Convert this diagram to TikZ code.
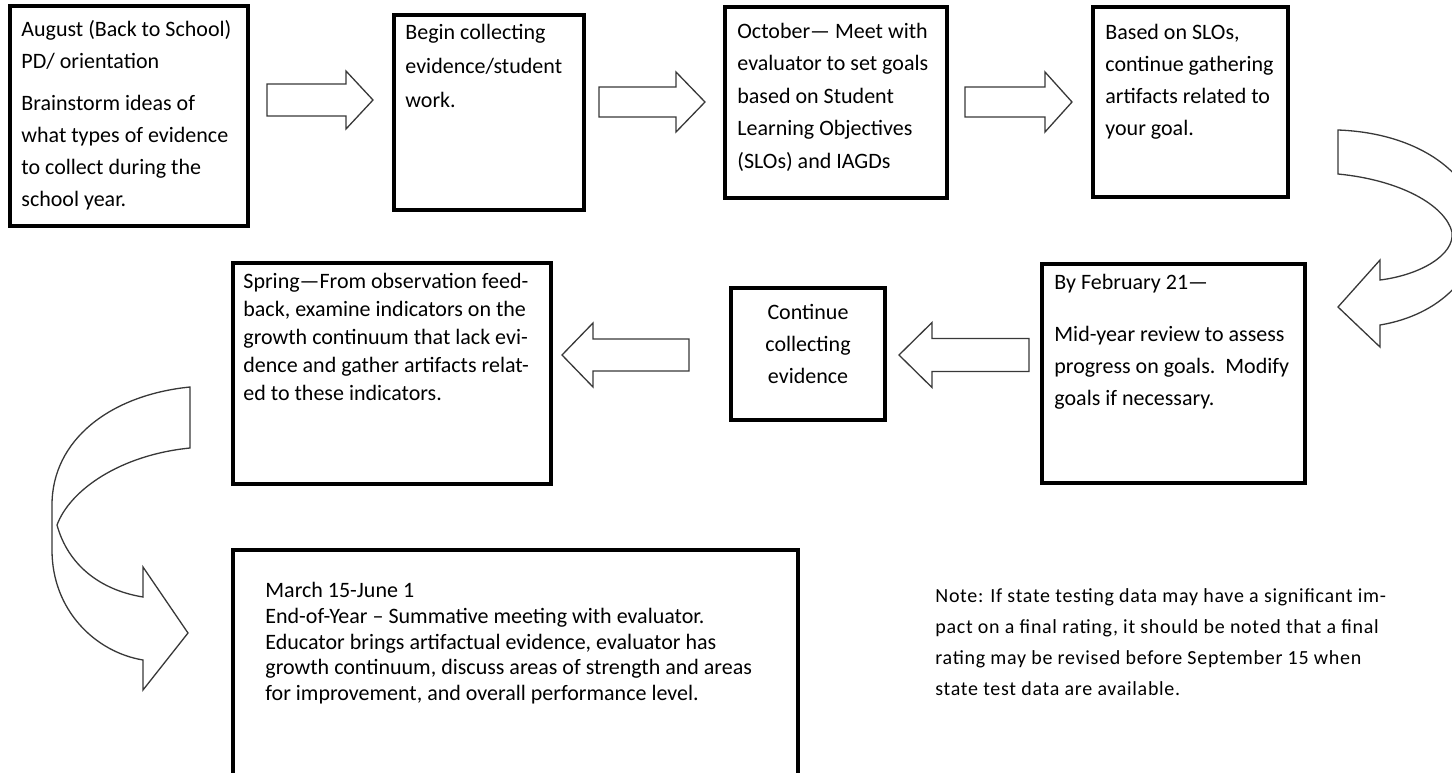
\documentclass[tikz,border=0pt]{standalone}
\usepackage{fontspec}
\setmainfont{Carlito}
\newfontfamily\notefont[LetterSpace=3.5]{Carlito}
\usetikzlibrary{fit}

% block arrow: tail x, head-base x, tip x, centre y, shaft half width, head half width
\newcommand\blockarrow[6]{%
  \path[blk] ({#1},{#4-#5}) -- ({#2},{#4-#5}) -- ({#2},{#4-#6}) -- ({#3},{#4})
    -- ({#2},{#4+#6}) -- ({#2},{#4+#5}) -- ({#1},{#4+#5}) -- cycle;}

\begin{document}
\begin{tikzpicture}[x=0.5pt,y=-0.5pt,
  box/.style={draw=black, line width=2.2pt, inner sep=0pt},
  txt/.style={font=\fontsize{11}{16}\selectfont, align=left, inner sep=0pt, anchor=north west},
  blk/.style={draw=black!78, line width=0.65pt, fill=white, line join=miter}]

\useasboundingbox (0,0) rectangle (1452,772);
\clip (0,0) rectangle (1452,772);

% ---- top row ----
\coordinate (b1a) at (10,6);    \coordinate (b1b) at (248,226);
\coordinate (b2a) at (394,15);  \coordinate (b2b) at (584,210);
\coordinate (b3a) at (725,7);   \coordinate (b3b) at (947,198);
\coordinate (b4a) at (1093,7);  \coordinate (b4b) at (1288,197);
\node[box, fit=(b1a)(b1b)] (b1) {};
\node[box, fit=(b2a)(b2b)] (b2) {};
\node[box, fit=(b3a)(b3b)] (b3) {};
\node[box, fit=(b4a)(b4b)] (b4) {};

\node[txt] (t1) at (21,14) {\strut August (Back to School)\\PD/ orientation\\[5pt]Brainstorm ideas of\\what types of evidence\\to collect during the\\school year.};
\node[txt, font=\fontsize{11}{17}\selectfont] (t2) at (405,15.2) {\strut Begin collecting\\evidence/student\\work.};
\node[txt, font=\fontsize{11}{16.25}\selectfont] (t3) at (737,15.3) {\strut October\textemdash{} Meet with\\evaluator to set goals\\based on Student\\Learning Objectives\\(SLOs) and IAGDs};
\node[txt] (t4) at (1105,17) {\strut Based on SLOs,\\continue gathering\\artifacts related to\\your goal.};

\blockarrow{267}{346}{373}{100}{16}{29}
\blockarrow{599}{676}{705}{102}{15}{30}
\blockarrow{965}{1045}{1072}{102}{15}{30}

% ---- middle row ----
\coordinate (b5a) at (1042,264);  \coordinate (b5b) at (1305,483);
\coordinate (b6a) at (731,288);   \coordinate (b6b) at (885,420);
\coordinate (b7a) at (233,263);   \coordinate (b7b) at (551,484);
\node[box, fit=(b5a)(b5b)] (b5) {};
\node[box, fit=(b6a)(b6b)] (b6) {};
\node[box, fit=(b7a)(b7b)] (b7) {};

\node[txt] (t5) at (1054,267) {\strut By February 21\textemdash\\[10pt]Mid-year review to assess\\progress on goals.\ \ Modify\\goals if necessary.};
\node[txt, anchor=north, align=center] (t6) at (808,297) {\strut Continue\\collecting\\evidence};
\node[txt, font=\fontsize{11}{14}\selectfont] (t7) at (243,268.4) {\strut Spring\textemdash From observation feed-\\back, examine indicators on the\\growth continuum that lack evi-\\dence and gather artifacts relat-\\ed to these indicators.};

\blockarrow{1029}{932}{899}{355}{16.5}{32.5}
\blockarrow{689}{593}{562}{355}{16}{32}

% ---- curled arrow down the right side ----
\path[blk] (1338,130) .. controls (1420,133) and (1475,175) .. (1478,225)
  .. controls (1480,275) and (1440,315) .. (1380,325)
  -- (1380,347) -- (1338,307) -- (1380,260) -- (1380,280)
  .. controls (1420,275) and (1455,255) .. (1452,232)
  .. controls (1445,205) and (1400,180) .. (1338,174) -- cycle;

% ---- curled arrow down the left side ----
\path[blk] (190,387) .. controls (110,395) and (52,440) .. (52,505)
  -- (52,550) .. controls (52,610) and (95,652) .. (143,660)
  -- (143,690) -- (188,633) -- (143,567) -- (143,597)
  .. controls (100,590) and (68,565) .. (57,525)
  .. controls (70,490) and (120,455) .. (190,448) -- cycle;

% ---- bottom row ----
\coordinate (b8a) at (233,550);  \coordinate (b8b) at (798,800);
\node[box, fit=(b8a)(b8b)] (b8) {};
\node[txt, font=\fontsize{11}{12.9}\selectfont] (t8) at (265,579) {\strut March 15-June 1\\End-of-Year \textendash{} Summative meeting with evaluator.\\Educator brings artifactual evidence, evaluator has\\growth continuum, discuss areas of strength and areas\\for improvement, and overall performance level.};

\node[txt, font=\notefont\fontsize{10}{15.5}\selectfont] (note) at (935,580.3) {\strut Note: If state testing data may have a significant im-\\pact on a final rating, it should be noted that a final\\rating may be revised before September 15 when\\state test data are available.};
\end{tikzpicture}
\end{document}
